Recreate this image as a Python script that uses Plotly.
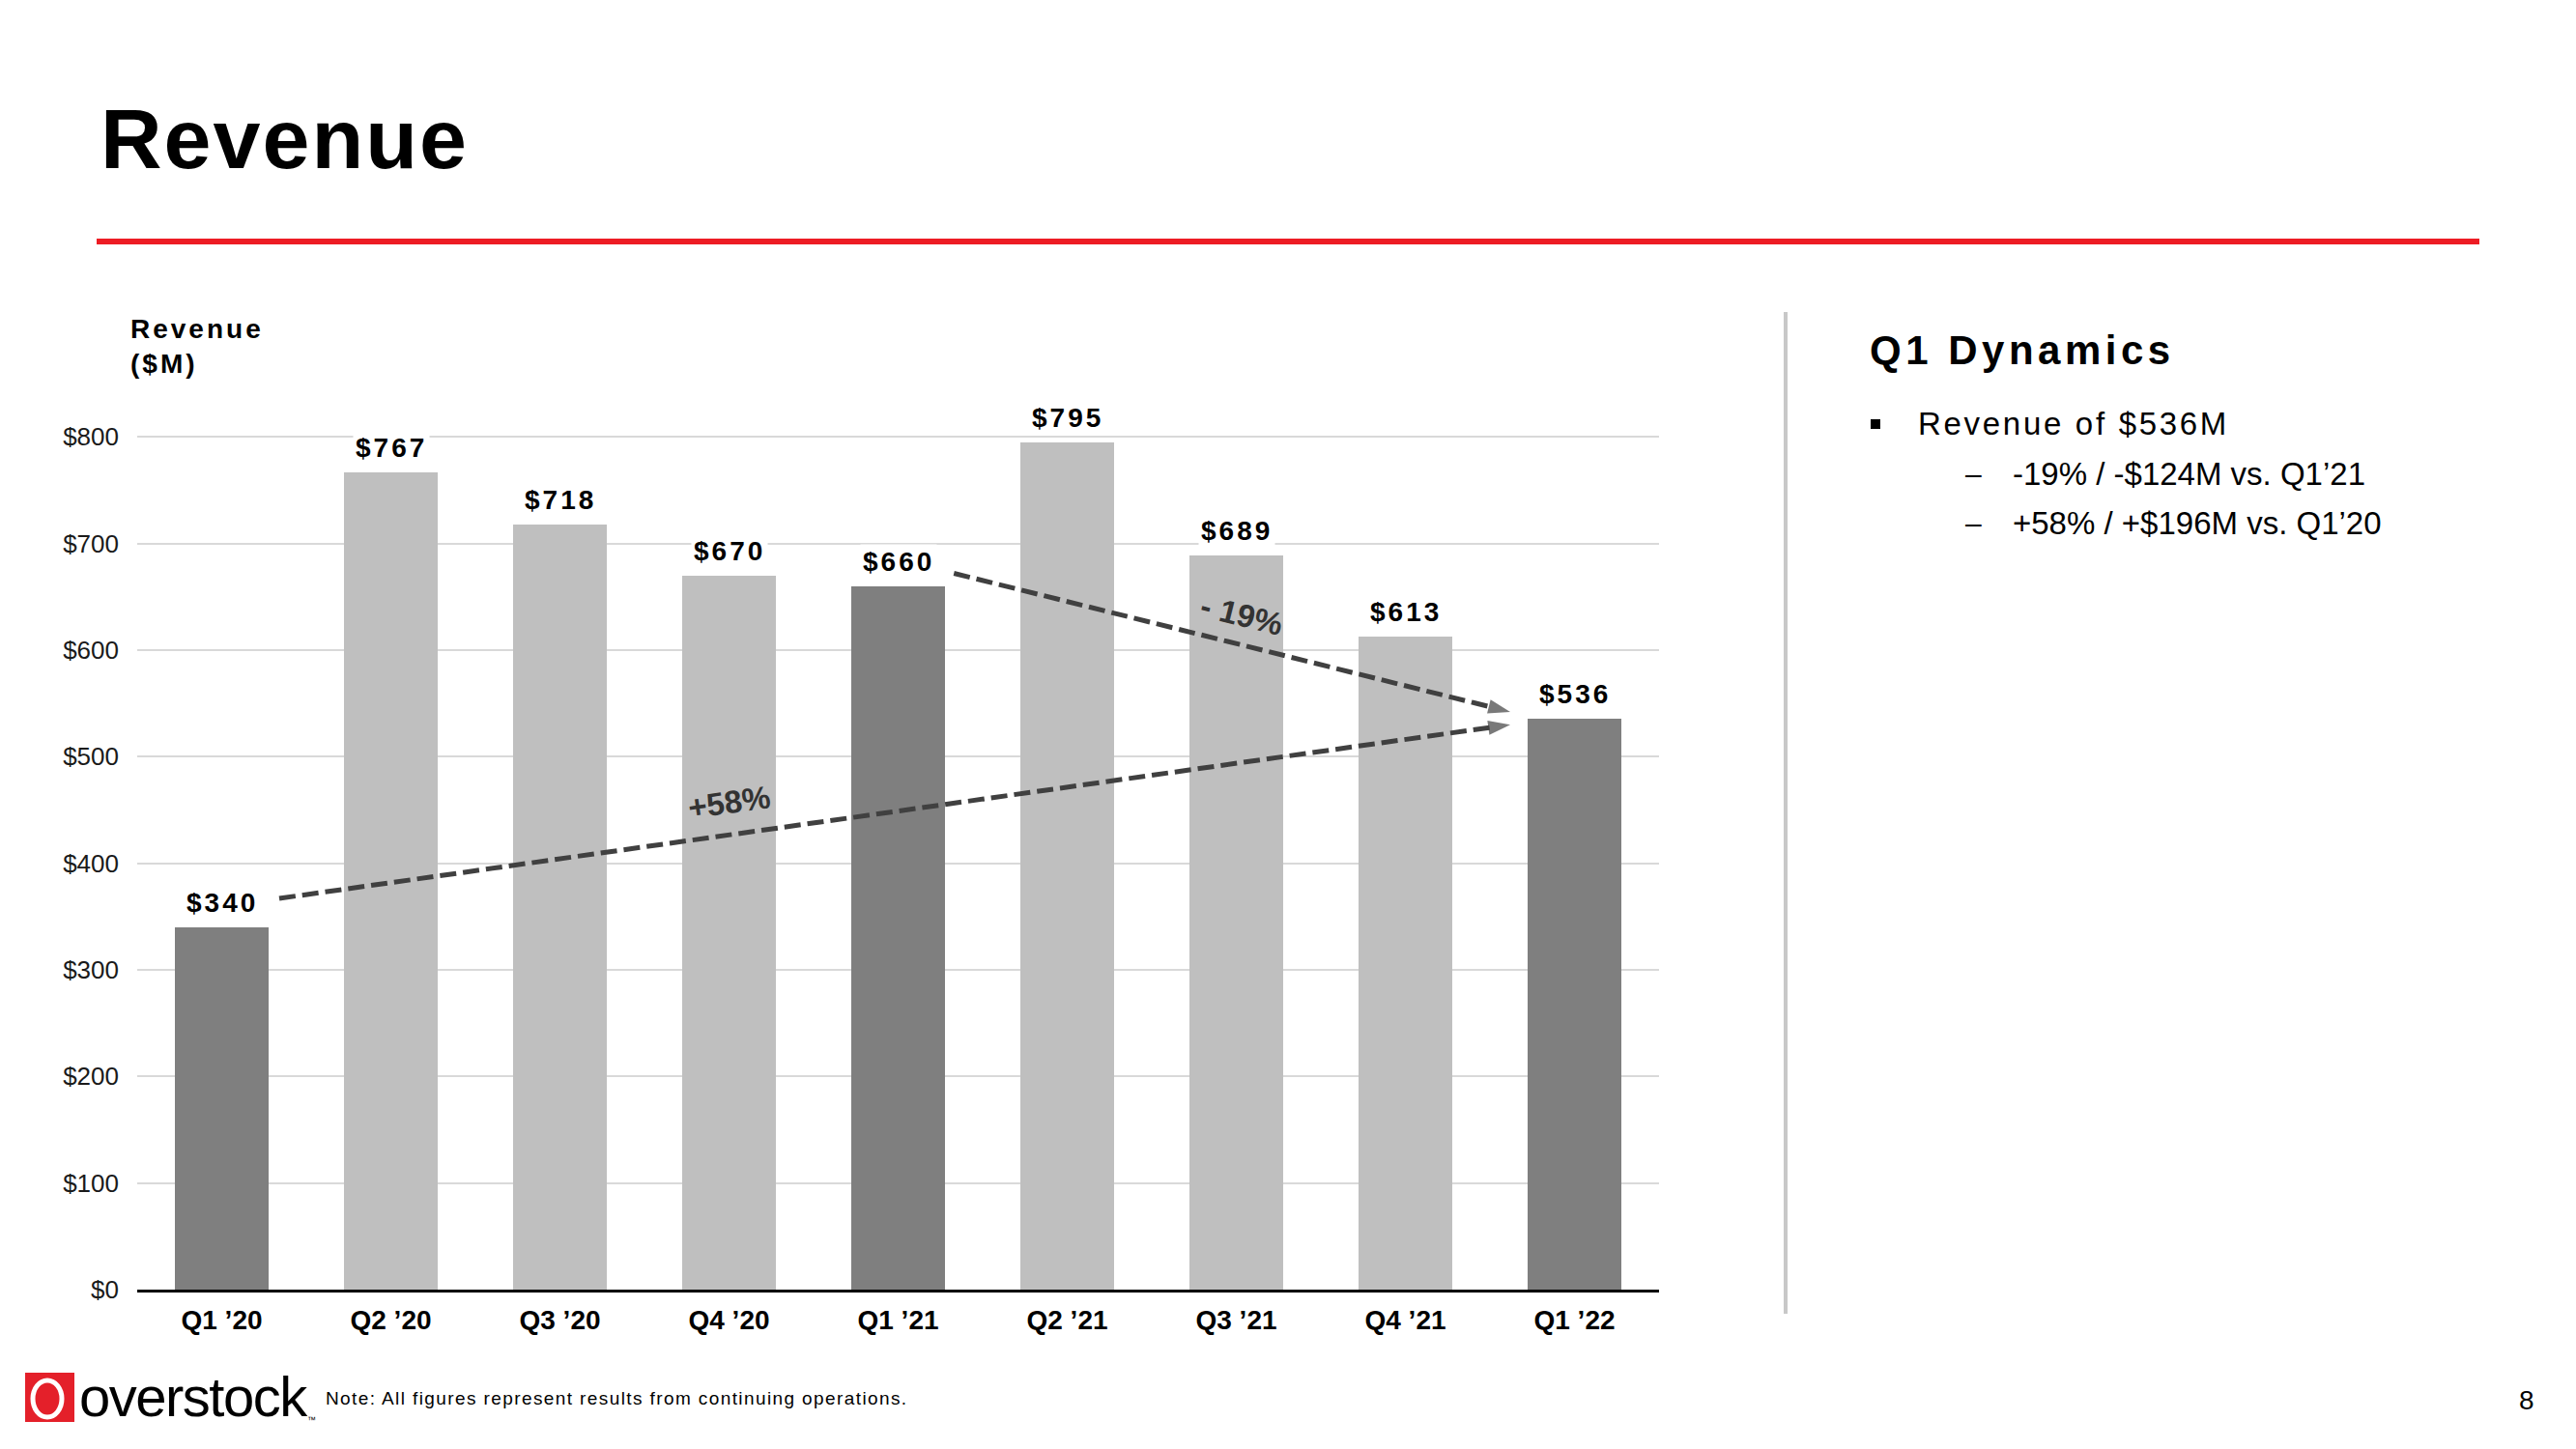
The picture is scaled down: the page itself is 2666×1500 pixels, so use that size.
import math
import plotly.graph_objects as go

W, H = 2666, 1500

# ---------------- data ----------------
categories = ["Q1 ’20", "Q2 ’20", "Q3 ’20", "Q4 ’20", "Q1 ’21",
              "Q2 ’21", "Q3 ’21", "Q4 ’21", "Q1 ’22"]
revenue = [340, 767, 718, 670, 660, 795, 689, 613, 536]
is_q1 = [True, False, False, False, True, False, False, False, True]
y_ticks = [0, 100, 200, 300, 400, 500, 600, 700, 800]
y_tick_labels = ["$" + str(v) for v in y_ticks]

title_text = "Revenue"
axis_title_lines = ["Revenue", "($M)"]
panel_title = "Q1 Dynamics"
panel_main = "Revenue of $536M"
panel_subs = ["-19% / -$124M vs. Q1’21", "+58% / +$196M vs. Q1’20"]
note_text = "Note: All figures represent results from continuing operations."
logo_text = "overstock"
page_number = "8"

# ---------------- styles ----------------
SANS = "Liberation Sans, Arial, sans-serif"
DARK_BAR = "#7F7F7F"
LIGHT_BAR = "#BFBFBF"
ARROW = "#404040"
RED = "#ED1C24"

# plot area in pixels
X_LEFT, X_RIGHT = 142, 1717
Y_ZERO = 1335
PX_PER_UNIT = 110.35 / 100
Y_MAX = 802
Y_TOP = Y_ZERO - Y_MAX * PX_PER_UNIT
PX_PER_CAT = (X_RIGHT - X_LEFT) / len(categories)


def px(x):
    return x / W


def py(y):
    return 1 - y / H


def sp(text, s):
    return f'<span style="letter-spacing:{s}px">{text}</span>'


fig = go.Figure()

xs = list(range(len(categories)))
fig.add_trace(go.Bar(
    x=xs, y=revenue, width=0.55,
    marker=dict(color=[DARK_BAR if q else LIGHT_BAR for q in is_q1], line=dict(width=0)),
    hoverinfo="skip",
))

# growth arrows derived from the data
first, prev_q1, last = 0, 4, len(revenue) - 1
arrows = [
    # (start idx, end idx, start offsets, end offsets, label t, label yshift)
    (first, last, (0.34, 27), (-0.38, -6), 0.365, 34),
    (prev_q1, last, (0.33, 12), (-0.38, 6), 0.517, 31),
]

annotations = []
for (i0, i1, (dx0, dy0), (dx1, dy1), t, ysh) in arrows:
    x0, y0 = i0 + dx0, revenue[i0] + dy0
    x1, y1 = i1 + dx1, revenue[i1] + dy1
    fig.add_trace(go.Scatter(
        x=[x0, x1], y=[y0, y1], mode="lines+markers",
        line=dict(color=ARROW, width=5, dash="17px,7px"),
        marker=dict(symbol="arrow", angleref="previous", size=[0, 24],
                    color=ARROW, line=dict(width=0)),
        hoverinfo="skip", cliponaxis=False,
    ))
    pct = round((revenue[i1] - revenue[i0]) / revenue[i0] * 100)
    label = f"+{pct}%" if pct >= 0 else f"- {abs(pct)}%"
    ang = -math.degrees(math.atan2((y1 - y0) * PX_PER_UNIT, (x1 - x0) * PX_PER_CAT))
    annotations.append(dict(
        x=x0 + t * (x1 - x0), y=y0 + t * (y1 - y0), xref="x", yref="y",
        text=f"<b>{label}</b>", showarrow=False, yshift=ysh, textangle=ang,
        font=dict(family=SANS, size=33, color="#333333"),
    ))

# bar value labels
for i, v in enumerate(revenue):
    annotations.append(dict(
        x=i, y=v, xref="x", yref="y", text="<b>" + sp(f"${v}", 3) + "</b>",
        showarrow=False, yanchor="middle", yshift=25, bgcolor="white", borderpad=2,
        font=dict(family=SANS, size=28, color="black"),
    ))

# page texts
annotations += [
    dict(x=px(102), y=py(143), text="<b>" + sp(title_text, 2) + "</b>",
         xanchor="left", yanchor="middle",
         font=dict(family=SANS, size=88, color="black")),
    dict(x=px(133), y=py(358),
         text="<br>".join("<b>" + sp(s, 3) + "</b>" for s in axis_title_lines),
         xanchor="left", yanchor="middle", align="left",
         font=dict(family=SANS, size=28, color="black")),
    dict(x=px(1933), y=py(362), text="<b>" + sp(panel_title, 4.5) + "</b>",
         xanchor="left", yanchor="middle",
         font=dict(family=SANS, size=42, color="black")),
    dict(x=px(1983), y=py(439), text=sp(panel_main, 2.7),
         xanchor="left", yanchor="middle",
         font=dict(family=SANS, size=33, color="black")),
    dict(x=px(335), y=py(1447), text=sp(note_text, 1.4),
         xanchor="left", yanchor="middle",
         font=dict(family=SANS, size=19, color="black")),
    dict(x=px(80), y=py(1445), text=sp(logo_text, -1.5),
         xanchor="left", yanchor="middle",
         font=dict(family=SANS, size=58, color="black")),
    dict(x=px(316), y=py(1470), text="™",
         xanchor="left", yanchor="middle",
         font=dict(family=SANS, size=9, color="black")),
    dict(x=px(2615), y=py(1449), text=page_number,
         xanchor="center", yanchor="middle",
         font=dict(family=SANS, size=28, color="black")),
]
for k, s in enumerate(panel_subs):
    yy = 490 + k * 51
    annotations.append(dict(x=px(2042), y=py(yy), text="–", xanchor="center", yanchor="middle",
                            font=dict(family=SANS, size=30, color="black")))
    annotations.append(dict(x=px(2081), y=py(yy), text=s, xanchor="left", yanchor="middle",
                            font=dict(family=SANS, size=33, color="black")))
for a in annotations:
    a.setdefault("xref", "paper")
    a.setdefault("yref", "paper")
    a.setdefault("showarrow", False)

shapes = [
    dict(type="line", xref="paper", yref="paper", x0=px(100), x1=px(2566), y0=py(250), y1=py(250),
         line=dict(color=RED, width=6)),
    dict(type="line", xref="paper", yref="paper", x0=px(1848), x1=px(1848), y0=py(323), y1=py(1360),
         line=dict(color="#C8C8C8", width=4)),
    dict(type="rect", xref="paper", yref="paper", x0=px(1936), x1=px(1946), y0=py(434), y1=py(444),
         fillcolor="black", line=dict(width=0)),
    dict(type="rect", xref="paper", yref="paper", x0=px(26), x1=px(77), y0=py(1421), y1=py(1472),
         fillcolor="#E4202A", line=dict(width=0)),
    dict(type="circle", xref="paper", yref="paper", x0=px(34), x1=px(64), y0=py(1429), y1=py(1467),
         line=dict(color="white", width=5)),
]

fig.update_layout(
    width=W, height=H,
    margin=dict(l=0, r=0, t=0, b=0, pad=0, autoexpand=False),
    paper_bgcolor="white", plot_bgcolor="white",
    showlegend=False, bargap=0,
    annotations=annotations, shapes=shapes,
    xaxis=dict(
        domain=[px(X_LEFT), px(X_RIGHT)], range=[-0.5, len(categories) - 0.5],
        tickmode="array", tickvals=xs, ticktext=categories,
        tickfont=dict(family=SANS, size=28, color="black", weight="bold"),
        showline=True, linecolor="black", linewidth=3,
        showgrid=False, zeroline=False, ticks="", ticklabelstandoff=4,
        fixedrange=True,
    ),
    yaxis=dict(
        domain=[py(Y_ZERO), py(Y_TOP)], range=[0, Y_MAX],
        tickmode="array", tickvals=y_ticks, ticktext=y_tick_labels,
        tickfont=dict(family=SANS, size=26, color="#1a1a1a"),
        showgrid=True, gridcolor="#D9D9D9", gridwidth=1.5,
        zeroline=False, showline=False, ticks="", ticklabelstandoff=18,
        fixedrange=True,
    ),
)

fig.write_html("out.html")
